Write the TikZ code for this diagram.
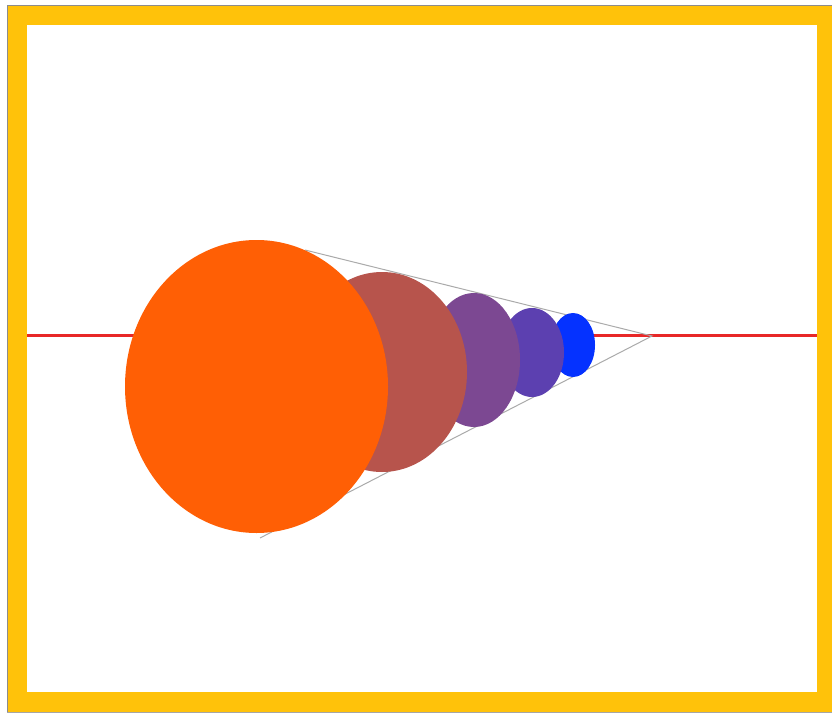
\documentclass[tikz,border=0pt]{standalone}
\usepackage{tikz}
\definecolor{frameyellow}{RGB}{255,194,10}
\definecolor{axisred}{RGB}{232,40,40}
\definecolor{conegray}{RGB}{170,170,170}
\definecolor{corange}{RGB}{255,95,5}
\definecolor{cbrown}{RGB}{183,84,76}
\definecolor{cpurple}{RGB}{124,72,146}
\definecolor{cindigo}{RGB}{92,64,176}
\definecolor{cblue}{RGB}{5,50,255}
\tikzset{
  coneline/.style={draw=conegray, line width=1pt},
  axisline/.style={draw=axisred, line width=2.6pt},
}
\begin{document}
\begin{tikzpicture}[x=1pt,y=-1pt]
\useasboundingbox (0,0) rectangle (832,714);
\fill[white] (0,0) rectangle (832,714);
% frame
\fill[frameyellow] (7,5) rectangle (832,712);
\draw[black!45, line width=0.8pt] (7,712) -- (7,5) -- (832,5);
\draw[black!35, line width=0.8pt] (7,712) -- (832,712);
\fill[white] (27,25) rectangle (817,692);
% axis
\coordinate (axL) at (27,335.5);
\coordinate (axR) at (817,335.5);
\draw[axisline] (axL) -- (axR);
% cone lines
\coordinate (apex) at (652,336);
\coordinate (tup) at (305,250);
\coordinate (tlow) at (260,538);
\draw[coneline] (tup) -- (apex) -- (tlow);
% spheres, smallest first
\fill[cblue]   (573,345)   ellipse [x radius=22pt,  y radius=32pt];
\fill[cindigo] (532,352.5) ellipse [x radius=32pt,  y radius=44.5pt];
\fill[cpurple] (474,360)   ellipse [x radius=46pt,  y radius=67pt];
\fill[cbrown]  (382,372)   ellipse [x radius=85pt,  y radius=100pt];
\fill[corange] (256.5,386.5) ellipse [x radius=131.5pt, y radius=146.5pt];
\end{tikzpicture}
\end{document}
